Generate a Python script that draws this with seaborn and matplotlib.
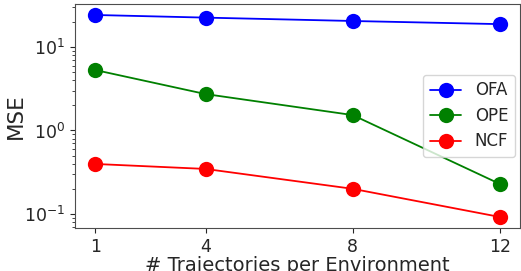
import matplotlib
matplotlib.use("Agg")
import matplotlib.pyplot as plt
import pandas as pd
import seaborn as sns

# values
n_traj = [1, 4, 8, 12]
mse_ofa = [24.2, 22.5, 20.5, 18.8]
mse_ope = [5.3, 2.73, 1.53, 0.229]
mse_ncf = [0.397, 0.346, 0.2, 0.092]
methods = ["OFA", "OPE", "NCF"]
colors = ["blue", "green", "red"]

df = pd.DataFrame({
    "traj": n_traj * 3,
    "mse": mse_ofa + mse_ope + mse_ncf,
    "method": [m for m in methods for _ in n_traj],
})

sns.set_style("ticks")
fig, ax = plt.subplots(figsize=(5.21, 2.71), dpi=100)
fig.subplots_adjust(left=0.144, right=0.998, top=0.985, bottom=0.159)

sns.lineplot(
    data=df, x="traj", y="mse", hue="method", hue_order=methods,
    palette=colors, marker="o", markersize=11, markeredgewidth=0,
    linewidth=1.3, ax=ax,
)
ax.set_yscale("log")
ax.set_xticks(n_traj)
ax.set_xlabel("# Trajectories per Environment", fontsize=14, color=".15", labelpad=0.5)
ax.set_ylabel("MSE", fontsize=15.5, color=".15", labelpad=-1)
ax.tick_params(labelsize=12.5, colors=".15")
ax.set_ylim(0.068, 32.7)
for s in ax.spines.values():
    s.set_color(".3")
ax.legend(title=None, loc="center right", fontsize=12, framealpha=0.8,
          handlelength=1.9, labelspacing=0.45, borderaxespad=0.3)

fig.savefig("out.png")
